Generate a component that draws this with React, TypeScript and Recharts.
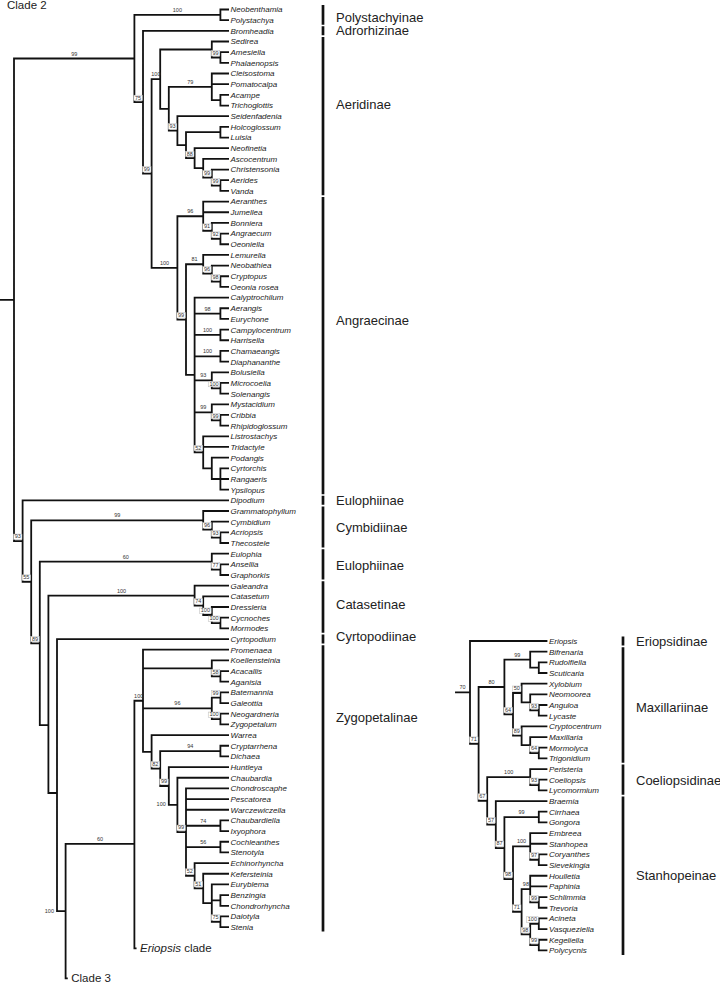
import React from 'react'
import { ComposedChart, Line, Scatter, XAxis, YAxis } from 'recharts'

// Trees as Newick strings, one per subtribe.
// After ")" : support value + where it is printed (a = above branch, b = boxed at node, l = left of parent stem)
// "@r" pins a node to a leaf row, "#h" marks a collapsed clade with h hidden levels.
const aeridinae =
  '((Sedirea,(Amesiella,Phalaenopsis)99b),((Cleisostoma,Pomatocalpa,(Acampe,Trichoglottis))79a,(Seidenfadenia,((Holcoglossum,Luisia),(Neofinetia,(Ascocentrum,(Christensonia,(Aerides,Vanda)99b)99b))88b))93b))100a'
const angraecinaeCore =
  '(Calyptrochilum,(Aerangis,Eurychone)98a,(Campylocentrum,Harrisella)100a,(Chamaeangis,Diaphananthe)100a,(Bolusiella,(Microcoelia,Solenangis)100b)93a,(Mystacidium,(Cribbia,Rhipidoglossum)99b)99a,(Listrostachys,Tridactyle,(Podangis,(Cyrtorchis,Rangaeris,Ypsilopus)))52b)'
const angraecinae = `((Aeranthes,Jumellea,(Bonniera,(Angraecum,Oeoniella)92b)91b)96a,((Lemurella,(Neobathiea,(Cryptopus,Oeonia rosea)98b)96b)81a,${angraecinaeCore})99b)100a`
const vandeae = `((Neobenthamia,Polystachya)100a,(Bromheadia,(${aeridinae},${angraecinae})99b)75b)99a`
const cymbidiinae = '(Grammatophyllum,(Cymbidium,(Acriopsis,Thecostele)93b)96b)99a'
const eulophiinae = '(Eulophia,(Ansellia,Graphorkis)77b)60a'
const catasetinae = '(Galeandra,(Catasetum,(Dressleria,(Cycnoches,Mormodes)100b)100b)74b)100a'
const zygoCore =
  '(Chondroscaphe,Pescatorea,Warczewiczella,(Chaubardiella,Ixyophora)74a,(Cochleanthes,Stenotyla)56a,(Echinorhyncha,(Kefersteinia,(Euryblema,(Benzingia,Chondrorhyncha),(Daiotyla,Stenia)75b))51b)52b)99b'
const zygopetalinae = `(Promenaea,(Koellensteinia,(Acacallis,Aganisia)58b),((Batemannia,Galeottia)99b,(Neogardneria,Zygopetalum)100b)96a,(Warrea,((Cryptarrhena,Dichaea)94a,(Huntleya,(Chaubardia,${zygoCore})100l)99b)82b))100a`
const clade2 = `(${vandeae},(Dipodium,(${cymbidiinae},(${eulophiinae},(${catasetinae},(Cyrtopodium,((${zygopetalinae},_Eriopsis_ clade#0@88)60a@78.2,Clade 3#18@90.8)100l)@73.43)@67.06)89b)55b)93b)`

const maxillariinae =
  '((Bifrenaria,(Rudolfiella,Scuticaria))99a,((Xylobium,(Neomoorea,(Anguloa,Lycaste)93b))50b,(Cryptocentrum,(Maxillaria,(Mormolyca,Trigonidium)64b))89b)64b)80a'
const coeliopsidinae = '(Peristeria,(Coeliopsis,Lycomormium)93b)100a'
const stanhopeinae =
  '(Braemia,((Cirrhaea,Gongora)99a,((Embreea,Stanhopea,(Coryanthes,Sievekingia)97b)100a,((Houlletia,Paphinia,(Schlimmia,Trevoria)99b)98a,((Acineta,Vasqueziella)100b,(Kegeliella,Polycycnis)99b)98b)71b)98b)87b)57b'
const eriopsisClade = `(Eriopsis,(${maxillariinae},(${coeliopsidinae},${stanhopeinae})67b)71b)70a`

// subtribe bars: name, first and last leaf, row of the label
const mainClades = ['Polystachyinae', 'Adrorhizinae', 'Aeridinae', 'Angraecinae', 'Eulophiinae', 'Cymbidiinae', 'Eulophiinae', 'Catasetinae', 'Cyrtopodiinae', 'Zygopetalinae']
const mainFirst = ['Neobenthamia', 'Bromheadia', 'Sedirea', 'Aeranthes', 'Dipodium', 'Grammatophyllum', 'Eulophia', 'Galeandra', 'Cyrtopodium', 'Promenaea']
const mainLast = ['Polystachya', 'Bromheadia', 'Vanda', 'Ypsilopus', 'Dipodium', 'Thecostele', 'Graphorkis', 'Mormodes', 'Cyrtopodium', 'Stenia']
const mainLabelRows = [0.75, 2.0, 8.86, 29.1, 46.0, 48.5, 52.1, 55.8, 58.8, 66.3]

const rightClades = ['Eriopsidinae', 'Maxillariinae', 'Coeliopsidinae', 'Stanhopeinae']
const rightFirst = ['Eriopsis', 'Bifrenaria', 'Peristeria', 'Braemia']
const rightLast = ['Eriopsis', 'Trigonidium', 'Lycomormium', 'Polycycnis']
const rightLabelRows = [0, 6.23, 13.03, 21.93]

const LEVEL = 8.6 // px per branch level
const ROW = 10.67 // px per leaf row
const FONT = "'Liberation Sans', Arial, Helvetica, sans-serif"

type TNode = { name?: string; kids: TNode[]; sup?: string; st?: string; row?: number; hid?: number; x: number; y: number; h: number }
type Pt = { x: number | null; y: number | null }

function parse(s: string): TNode {
  let i = 0
  const num = (re: RegExp) => {
    let d = ''
    while (i < s.length && re.test(s[i])) d += s[i++]
    return d
  }
  const node = (): TNode => {
    const n: TNode = { kids: [], x: 0, y: 0, h: 0 }
    if (s[i] === '(') {
      i++
      n.kids.push(node())
      while (s[i] === ',') {
        i++
        n.kids.push(node())
      }
      i++
      const d = num(/[0-9]/)
      if (d) {
        n.sup = d
        n.st = s[i++]
      }
    } else {
      let t = ''
      while (i < s.length && !',()#@'.includes(s[i])) t += s[i++]
      n.name = t
    }
    if (s[i] === '#') {
      i++
      n.hid = +num(/[0-9]/)
    }
    if (s[i] === '@') {
      i++
      n.row = +num(/[0-9.]/)
    }
    return n
  }
  return node()
}

function build(src: string, stemFrom: number) {
  const root = parse(src)
  const height = (n: TNode): number => {
    n.h = n.kids.length ? 1 + Math.max(...n.kids.map(height)) : n.hid ?? 0
    return n.h
  }
  height(root)
  const top = root.h
  let row = 0
  const place = (n: TNode, px: number) => {
    if (!n.kids.length) {
      n.x = n.hid !== undefined ? px + 0.25 : top
      n.y = n.row ?? row++
      return
    }
    n.x = top - n.h
    n.kids.forEach((k) => place(k, n.x))
    n.y = n.row ?? (n.kids[0].y + n.kids[n.kids.length - 1].y) / 2
  }
  place(root, 0)

  const lines: Pt[] = []
  const leaves: any[] = []
  const sups: any[] = []
  const brk = () => lines.push({ x: null, y: null })
  const addSup = (k: TNode, px: number) => {
    if (!k.sup) return
    const x = k.st === 'a' ? (px + k.x) / 2 : k.st === 'b' ? k.x : px
    sups.push({ x, y: k.y, text: k.sup, st: k.st })
  }
  lines.push({ x: stemFrom, y: root.y }, { x: root.x, y: root.y })
  brk()
  addSup(root, stemFrom)
  const walk = (n: TNode) => {
    if (!n.kids.length) {
      leaves.push({ x: n.x, y: n.y, name: n.name, collapsed: n.hid !== undefined })
      return
    }
    const a = n.kids[0]
    const b = n.kids[n.kids.length - 1]
    lines.push({ x: a.x, y: a.y }, { x: n.x, y: a.y }, { x: n.x, y: b.y }, { x: b.x, y: b.y })
    brk()
    n.kids.slice(1, -1).forEach((k) => {
      lines.push({ x: n.x, y: k.y }, { x: k.x, y: k.y })
      brk()
    })
    n.kids.forEach((k) => {
      addSup(k, n.x)
      walk(k)
    })
  }
  walk(root)
  return { lines, leaves, sups }
}

const leafShape = (p: any) => {
  const n = p.payload
  if (n.collapsed) {
    const parts = String(n.name).split('_')
    return (
      <text x={p.cx + 3.5} y={p.cy + 3.6} fontSize={11.5} fill="#222">
        {parts.map((s: string, i: number) => (
          <tspan key={i} fontStyle={i % 2 ? 'italic' : 'normal'}>
            {s}
          </tspan>
        ))}
      </text>
    )
  }
  return (
    <text x={p.cx + 1.5} y={p.cy + 2.9} fontSize={8} fontStyle="italic" fill="#222">
      {n.name}
    </text>
  )
}

const supShape = (p: any) => {
  const { cx, cy, payload } = p
  const t = payload.text
  if (payload.st === 'b') {
    const w = t.length * 3.06 + 2.4
    return (
      <g>
        <rect x={cx - w - 0.6} y={cy - 7} width={w} height={5.5} fill="#fff" stroke="#b8b8b8" strokeWidth={0.5} />
        <text x={cx - 0.6 - w / 2} y={cy - 2.6} textAnchor="middle" fontSize={5.5} fill="#333">
          {t}
        </text>
      </g>
    )
  }
  if (payload.st === 'l') {
    return (
      <text x={cx - 3} y={cy + 1.5} textAnchor="end" fontSize={5.5} fill="#333">
        {t}
      </text>
    )
  }
  return (
    <text x={cx} y={cy - 3} textAnchor="middle" fontSize={5.5} fill="#333">
      {t}
    </text>
  )
}

const cladeShape = (p: any) => (
  <text x={p.cx} y={p.cy + 4.6} fontSize={p.payload.size ?? 13} fill="#222">
    {p.payload.name}
  </text>
)

type Frame = { left: number; top: number; width: number; height: number; x0: number; y0: number }

function TreePanel(props: {
  src: string
  stem: number
  names: string[]
  first: string[]
  last: string[]
  labelRows: number[]
  barPx: number
  labelPx: number
  frame: Frame
  title?: string
}) {
  const { frame: f } = props
  const { lines, leaves, sups } = build(props.src, props.stem)
  const rowOf = (nm: string) => leaves.find((l) => l.name === nm)?.y ?? 0
  // page pixel -> level units of this panel
  const toLevel = (px: number) => (px - f.left - f.x0) / LEVEL
  const barX = toLevel(props.barPx)
  const labelX = toLevel(props.labelPx)
  const bars: Pt[] = []
  props.names.forEach((_, i) => {
    bars.push({ x: barX, y: rowOf(props.first[i]) - 0.42 }, { x: barX, y: rowOf(props.last[i]) + 0.42 }, { x: null, y: null })
  })
  const cladeLabels: any[] = props.names.map((name, i) => ({ x: labelX, y: props.labelRows[i], name }))
  if (props.title) cladeLabels.push({ x: toLevel(7), y: -0.45, name: props.title, size: 11.5 })

  return (
    <div style={{ position: 'absolute', left: f.left, top: f.top }}>
      <ComposedChart width={f.width} height={f.height} margin={{ top: 0, right: 0, bottom: 0, left: 0 }}>
        <XAxis type="number" dataKey="x" hide allowDataOverflow domain={[-f.x0 / LEVEL, (f.width - f.x0) / LEVEL]} />
        <YAxis type="number" dataKey="y" hide reversed allowDataOverflow domain={[-f.y0 / ROW, (f.height - f.y0) / ROW]} />
        <Line data={lines} dataKey="y" type="linear" stroke="#111" strokeWidth={1.8} dot={false} activeDot={false} isAnimationActive={false} />
        <Line data={bars} dataKey="y" type="linear" stroke="#111" strokeWidth={2.7} dot={false} activeDot={false} isAnimationActive={false} />
        <Scatter data={leaves} shape={leafShape} isAnimationActive={false} />
        <Scatter data={sups} shape={supShape} isAnimationActive={false} />
        <Scatter data={cladeLabels} shape={cladeShape} isAnimationActive={false} />
      </ComposedChart>
    </div>
  )
}

export default function App() {
  return (
    <div style={{ position: 'absolute', left: 0, top: 0, width: 720, height: 984, background: '#fff', fontFamily: FONT, overflow: 'hidden' }}>
      <TreePanel
        src={clade2}
        stem={-1.7}
        names={mainClades}
        first={mainFirst}
        last={mainLast}
        labelRows={mainLabelRows}
        barPx={323}
        labelPx={336}
        frame={{ left: 0, top: 0, width: 450, height: 984, x0: 14, y0: 9.5 }}
        title="Clade 2"
      />
      <TreePanel
        src={eriopsisClade}
        stem={-1.74}
        names={rightClades}
        first={rightFirst}
        last={rightLast}
        labelRows={rightLabelRows}
        barPx={623}
        labelPx={636}
        frame={{ left: 440, top: 600, width: 280, height: 372, x0: 30, y0: 41 }}
      />
    </div>
  )
}
